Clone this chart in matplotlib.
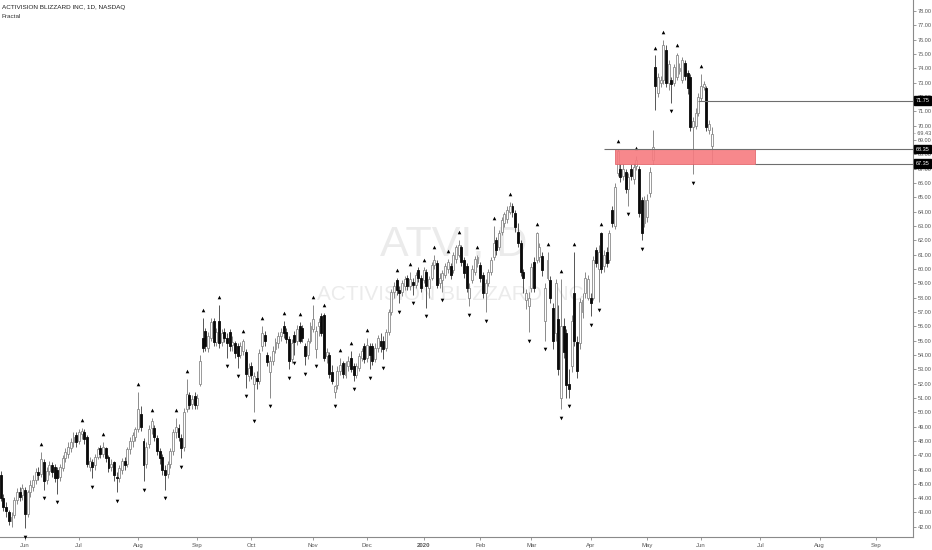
import numpy as np
import pandas as pd
import matplotlib
matplotlib.use("Agg")
import matplotlib.pyplot as plt
import matplotlib.transforms as mtrans
from matplotlib.patches import Rectangle

# ---------------- data ----------------
start_date = "2019-05-20"
holidays = ["2019-05-27", "2019-07-04", "2019-09-02", "2019-11-28", "2019-12-25",
            "2020-01-01", "2020-01-20", "2020-02-17", "2020-04-10", "2020-05-25",
            "2020-07-03", "2020-09-07"]

opens = [45.6, 44.0, 43.4, 43.0, 42.4, 42.8, 43.9, 44.4, 44.2, 44.6,
         42.9, 44.4, 44.8, 45.3, 45.8, 45.7, 46.5, 45.3, 45.9, 46.3,
         46.2, 46.0, 45.5, 46.1, 46.8, 47.1, 47.5, 47.9, 48.4, 48.0,
         48.5, 48.6, 48.3, 46.2, 46.5, 46.3, 46.9, 47.5, 47.1, 47.5,
         46.9, 46.2, 46.5, 45.5, 45.4, 46.0, 46.6, 46.4, 47.4, 48.0,
         48.3, 48.8, 49.9, 48.0, 46.4, 47.8, 48.9, 48.9, 48.2, 47.3,
         46.9, 46.0, 45.7, 46.4, 47.3, 48.6, 48.9, 48.2, 47.6, 50.2,
         51.2, 50.6, 51.1, 50.5, 52.0, 55.2, 55.7, 54.5, 55.2, 56.4,
         54.9, 56.4, 54.9, 55.6, 55.2, 55.6, 54.7, 54.8, 54.6, 54.0,
         54.3, 54.2, 52.5, 53.2, 52.0, 52.4, 52.2, 54.6, 55.4, 54.0,
         52.8, 53.6, 54.4, 54.8, 55.3, 56.0, 55.6, 55.1, 53.7, 55.4,
         55.0, 56.0, 55.9, 54.6, 54.0, 55.0, 55.8, 54.4, 56.0, 56.7,
         56.8, 53.9, 54.0, 52.8, 51.4, 51.9, 52.9, 53.4, 52.6, 53.2,
         53.8, 53.2, 52.6, 53.1, 53.8, 54.6, 53.8, 54.6, 54.6, 53.7,
         54.5, 55.0, 55.0, 54.5, 55.6, 57.0, 58.4, 59.2, 58.5, 58.4,
         58.8, 59.4, 58.8, 59.1, 58.9, 59.9, 59.4, 59.2, 59.8, 58.7,
         59.4, 60.3, 60.4, 59.0, 59.2, 59.6, 60.0, 60.2, 59.9, 60.7,
         61.0, 61.5, 60.6, 60.2, 58.0, 59.2, 59.8, 60.4, 60.3, 59.6,
         58.3, 59.0, 59.8, 60.8, 62.0, 61.5, 62.6, 63.2, 63.5, 64.0,
         64.4, 63.9, 62.6, 61.8, 59.8, 57.8, 57.4, 58.7, 60.5, 60.6,
         60.8, 60.9, 56.4, 59.4, 59.2, 57.3, 55.5, 56.5, 51.0, 56.0,
         55.5, 52.0, 53.2, 58.3, 54.9, 54.8, 57.0, 58.3, 58.0, 58.0,
         58.0, 61.3, 60.0, 62.5, 60.2, 61.2, 60.6, 64.1, 63.0, 66.7,
         67.0, 66.5, 66.8, 65.6, 67.0, 66.3, 67.2, 67.0, 64.8, 63.2,
         63.6, 65.3, 67.6, 74.1, 72.3, 73.0, 73.2, 75.3, 73.0, 73.2,
         73.0, 73.4, 73.8, 73.2, 74.4, 73.7, 73.4, 69.9, 70.0, 70.9,
         71.9, 72.7, 72.6, 69.7, 68.6]

highs = [45.9, 44.3, 43.7, 43.2, 43.0, 44.1, 44.7, 44.8, 45.0, 44.8,
         44.6, 45.3, 45.6, 46.1, 46.2, 47.2, 46.7, 46.2, 46.6, 46.5,
         46.4, 46.2, 46.4, 47.0, 47.5, 47.9, 48.2, 48.6, 48.6, 48.8,
         48.9, 48.8, 48.4, 46.9, 46.7, 47.1, 47.6, 47.7, 47.9, 47.6,
         47.0, 46.7, 46.6, 45.8, 46.3, 46.8, 46.9, 47.6, 48.3, 48.6,
         49.0, 51.4, 50.4, 48.2, 47.9, 49.1, 49.6, 49.1, 48.4, 47.5,
         47.1, 46.3, 46.6, 47.5, 48.8, 49.6, 49.2, 48.5, 50.3, 52.3,
         51.4, 51.2, 51.4, 51.3, 54.0, 56.6, 55.9, 55.6, 56.6, 56.6,
         55.9, 57.5, 55.8, 55.9, 55.5, 55.8, 55.3, 55.0, 54.8, 54.9,
         55.1, 54.4, 53.4, 53.5, 52.8, 52.9, 54.4, 56.0, 55.7, 54.2,
         53.9, 54.6, 55.2, 55.6, 55.9, 56.4, 55.9, 55.3, 55.1, 55.7,
         56.1, 56.3, 56.1, 54.8, 55.2, 56.3, 57.5, 56.0, 56.6, 56.9,
         56.9, 54.5, 54.2, 53.3, 51.9, 53.2, 53.8, 53.6, 53.6, 53.9,
         54.3, 53.4, 53.4, 54.1, 54.5, 54.8, 55.2, 54.8, 54.8, 54.8,
         55.4, 55.5, 55.3, 55.8, 57.2, 58.6, 59.1, 59.4, 58.8, 59.2,
         59.5, 59.6, 59.8, 59.4, 59.8, 60.1, 59.6, 60.1, 60.0, 59.5,
         60.5, 61.0, 60.6, 59.7, 59.9, 60.4, 60.7, 60.4, 61.2, 61.7,
         62.0, 61.7, 60.8, 60.4, 59.0, 60.3, 60.9, 61.0, 60.5, 59.8,
         59.3, 60.0, 60.8, 63.0, 62.2, 62.7, 63.6, 64.0, 64.4, 64.7,
         64.6, 64.1, 63.2, 62.0, 60.0, 58.6, 58.4, 60.4, 60.8, 62.6,
         61.8, 61.2, 59.0, 61.2, 59.5, 57.6, 59.3, 57.5, 59.3, 56.6,
         55.8, 53.0, 56.8, 61.2, 55.3, 58.0, 58.3, 59.8, 59.6, 58.3,
         60.9, 61.5, 61.7, 62.6, 61.3, 61.5, 62.7, 64.4, 66.0, 68.4,
         67.3, 67.3, 67.0, 66.7, 67.3, 67.4, 67.9, 67.2, 65.0, 65.1,
         65.2, 67.1, 69.7, 74.9, 73.7, 73.5, 76.0, 75.6, 74.6, 73.4,
         74.3, 75.1, 74.4, 74.8, 74.6, 73.9, 73.6, 70.6, 71.2, 72.3,
         73.6, 73.1, 72.8, 70.4, 69.9]

lows = [43.8, 43.1, 42.7, 42.1, 42.0, 42.6, 43.6, 43.8, 43.9, 41.9,
        42.7, 44.1, 44.5, 45.0, 45.3, 45.5, 44.6, 45.0, 45.6, 45.5,
        45.1, 44.3, 45.2, 45.9, 46.5, 46.8, 47.2, 47.6, 47.6, 47.8,
        48.1, 47.8, 46.2, 45.9, 45.4, 46.0, 46.7, 46.8, 46.9, 46.5,
        45.8, 45.9, 45.2, 44.4, 45.1, 45.7, 46.0, 46.2, 47.1, 47.6,
        48.0, 48.6, 48.7, 45.2, 46.1, 47.5, 48.5, 48.0, 47.0, 46.4,
        45.6, 44.6, 45.4, 46.1, 47.0, 48.2, 48.0, 46.8, 47.3, 50.0,
        50.2, 50.2, 50.2, 50.2, 51.8, 54.2, 54.3, 54.2, 55.0, 54.6,
        54.6, 54.5, 54.6, 54.9, 53.8, 54.3, 54.3, 53.8, 53.1, 53.8,
        54.0, 51.7, 52.2, 52.3, 50.0, 51.6, 52.0, 54.3, 54.6, 53.2,
        51.0, 53.3, 54.1, 54.5, 55.0, 55.2, 54.8, 53.0, 53.4, 54.0,
        54.7, 54.8, 54.9, 53.3, 53.7, 54.8, 55.6, 53.8, 55.3, 55.3,
        53.6, 53.4, 52.4, 52.0, 51.0, 51.6, 52.6, 52.4, 52.4, 52.9,
        52.8, 52.2, 52.4, 52.9, 53.6, 53.4, 53.5, 53.0, 53.3, 53.5,
        54.2, 54.2, 53.7, 54.3, 55.4, 56.8, 58.0, 58.2, 57.6, 58.1,
        58.5, 58.5, 58.5, 58.2, 58.7, 59.1, 58.4, 59.0, 57.3, 58.0,
        59.2, 60.0, 58.7, 58.7, 58.4, 59.4, 59.7, 59.3, 59.7, 60.4,
        60.8, 60.2, 59.4, 58.4, 57.4, 59.0, 59.6, 60.1, 59.1, 58.0,
        57.0, 58.8, 59.6, 60.6, 61.0, 61.3, 62.4, 62.9, 63.2, 63.8,
        63.6, 62.6, 61.5, 59.5, 58.3, 57.2, 55.6, 58.4, 58.4, 60.4,
        60.5, 59.5, 55.0, 59.2, 57.6, 54.4, 55.0, 52.6, 50.2, 53.8,
        51.0, 51.0, 52.8, 54.6, 52.4, 54.4, 56.6, 58.0, 57.8, 56.7,
        57.8, 60.1, 57.7, 59.7, 59.8, 60.1, 60.4, 62.9, 62.8, 66.5,
        66.1, 66.2, 65.3, 64.4, 66.2, 65.9, 66.9, 63.6, 62.0, 62.9,
        63.3, 65.0, 67.3, 71.1, 72.0, 72.7, 72.9, 72.7, 72.5, 71.6,
        72.8, 73.2, 73.6, 73.0, 73.2, 72.2, 69.6, 66.6, 69.8, 70.7,
        71.7, 72.5, 69.6, 69.4, 67.4]

closes = [44.0, 43.4, 43.1, 42.4, 42.7, 43.9, 44.4, 44.1, 44.7, 42.9,
          44.4, 44.9, 45.3, 45.8, 45.6, 46.7, 45.2, 45.9, 46.3, 45.8,
          45.4, 45.4, 46.2, 46.8, 47.2, 47.6, 47.9, 48.3, 47.9, 48.6,
          48.7, 48.1, 46.4, 46.6, 46.2, 46.9, 47.4, 47.1, 47.6, 46.8,
          46.1, 46.4, 45.6, 45.4, 46.1, 46.6, 46.3, 47.4, 48.0, 48.4,
          48.8, 50.2, 49.0, 46.3, 47.6, 48.8, 49.4, 48.3, 47.3, 46.8,
          46.0, 45.6, 46.4, 47.3, 48.6, 49.0, 48.3, 47.5, 50.0, 51.3,
          50.5, 50.9, 50.5, 51.0, 53.6, 54.5, 54.6, 55.3, 56.3, 54.9,
          55.6, 54.8, 55.5, 55.2, 54.8, 54.6, 54.9, 54.1, 53.9, 54.6,
          55.0, 52.7, 53.1, 52.6, 52.5, 52.2, 54.1, 55.5, 55.0, 53.5,
          53.6, 54.3, 54.9, 55.3, 55.6, 55.5, 55.1, 53.6, 54.8, 54.9,
          55.8, 55.0, 55.2, 53.9, 55.0, 56.0, 56.5, 55.7, 56.3, 55.5,
          53.8, 54.2, 52.7, 52.2, 51.8, 52.9, 53.3, 52.7, 53.4, 53.6,
          53.0, 52.6, 53.2, 53.9, 54.3, 53.7, 54.7, 54.0, 53.6, 54.5,
          55.2, 54.6, 54.4, 55.6, 57.0, 58.4, 58.8, 58.5, 58.3, 59.0,
          59.3, 58.8, 59.3, 58.9, 59.6, 59.4, 58.7, 59.9, 58.8, 59.3,
          60.3, 60.6, 58.9, 59.4, 59.7, 60.2, 60.5, 59.6, 61.0, 61.5,
          61.7, 60.5, 59.7, 58.7, 58.7, 60.0, 60.7, 60.8, 59.4, 58.3,
          59.0, 59.8, 60.6, 61.8, 61.3, 62.5, 63.4, 63.8, 64.1, 64.4,
          64.0, 62.9, 61.8, 59.8, 59.4, 58.3, 58.0, 60.1, 58.7, 62.5,
          61.5, 59.9, 58.7, 60.6, 58.0, 55.0, 59.0, 53.0, 56.0, 54.2,
          51.9, 51.6, 56.4, 55.0, 52.9, 57.7, 57.8, 59.4, 59.3, 57.6,
          60.6, 60.4, 61.2, 60.0, 61.0, 60.4, 62.5, 63.2, 65.7, 68.2,
          66.4, 67.0, 65.6, 66.4, 66.5, 67.1, 67.6, 63.9, 62.5, 64.8,
          64.8, 66.8, 68.5, 72.8, 73.4, 73.2, 75.6, 73.0, 74.3, 72.9,
          74.1, 74.9, 74.0, 74.6, 73.5, 72.6, 69.9, 70.3, 70.9, 72.0,
          72.8, 72.9, 69.9, 70.1, 69.43]

fractal_high_idx = [15, 30, 38, 51, 56, 65, 69, 75, 81, 90, 97, 105, 111, 116, 120,
                    126, 130, 136, 147, 152, 157, 161, 166, 170, 177, 183, 189, 199,
                    203, 208, 213, 223, 229, 236, 243, 246, 251, 260]
fractal_low_idx = [9, 16, 21, 34, 43, 53, 61, 67, 84, 88, 91, 94, 100, 107, 109, 113,
                   117, 124, 131, 137, 142, 148, 153, 158, 164, 174, 180, 196, 202,
                   208, 211, 219, 222, 233, 238, 249, 257]

level_prices = [71.75, 68.35, 67.35]
level_starts = ["2020-05-29", "2020-04-08", "2020-06-29"]
zone_low, zone_high = 67.35, 68.35
zone_start, zone_end = "2020-04-15", "2020-06-29"
last_price_label = 69.43

title_text = "ACTIVISION BLIZZARD INC, 1D, NASDAQ"
indicator_text = "Fractal"
watermark_big = "ATVI, D"
watermark_small = "ACTIVISION BLIZZARD INC"

# ---------------- calendar of trading days ----------------
cal = pd.bdate_range(start_date, "2020-09-30")
cal = cal[~cal.isin(pd.to_datetime(holidays))]
pos = {d: i for i, d in enumerate(cal)}

def xi(date_str):
    return pos[pd.Timestamp(date_str)]

o = np.array(opens); h = np.array(highs); l = np.array(lows); c = np.array(closes)
n = len(o)
x = np.arange(n)
up = c >= o

FONT = "Liberation Sans"

# ---------------- figure ----------------
W, H = 932, 550
fig = plt.figure(figsize=(W / 100, H / 100), dpi=100)
fig.patch.set_facecolor("white")
ax = fig.add_axes([0, 13 / H, 913 / W, 537 / H])
ax.set_facecolor("white")

XL = (-0.28, 338.7)
YL = (41.29, 78.77)
ax.set_xlim(*XL)
ax.set_ylim(*YL)

# watermark
ax.text(0.497, 0.545, watermark_big, transform=ax.transAxes, ha="center", va="center",
        fontsize=31, color="#ebebeb", family=FONT, zorder=0)
ax.text(0.493, 0.452, watermark_small, transform=ax.transAxes, ha="center", va="center",
        fontsize=15, color="#ebebeb", family=FONT, zorder=0)

# candles
wick_col = "#8a8a8a"
ax.vlines(x[up], l[up], h[up], color=wick_col, lw=0.7, zorder=2)
ax.vlines(x[~up], l[~up], h[~up], color="#555555", lw=0.7, zorder=2)
body_h = np.maximum(np.abs(c - o), 0.06)
body_b = np.minimum(o, c)
ax.bar(x[up], body_h[up], bottom=body_b[up], width=0.72, facecolor="white",
       edgecolor="#8a8a8a", linewidth=0.6, zorder=3)
ax.bar(x[~up], body_h[~up], bottom=body_b[~up], width=0.72, facecolor="#0a0a0a",
       edgecolor="#0a0a0a", linewidth=0.6, zorder=3)

# fractals
fh = np.array(fractal_high_idx); fl = np.array(fractal_low_idx)
ax.plot(fh, h[fh] + 0.55, linestyle="none", marker="^", markersize=2.6,
        markeredgewidth=0, color="black", zorder=4, clip_on=False)
ax.plot(fl, l[fl] - 0.6, linestyle="none", marker="v", markersize=2.6,
        markeredgewidth=0, color="black", zorder=4, clip_on=False)

# zone and levels
zs, ze = xi(zone_start), xi(zone_end)
ax.add_patch(Rectangle((zs, zone_low), ze - zs, zone_high - zone_low,
                       facecolor="#f77b80", edgecolor="#e06066", lw=0.6,
                       alpha=0.9, zorder=5))
for p, s in zip(level_prices, level_starts):
    ax.hlines(p, xi(s), XL[1], color="#6e6e6e", lw=0.8, zorder=5)

# axes styling
for sp in ["top", "left"]:
    ax.spines[sp].set_visible(False)
ax.spines["right"].set_color("#8a8a8a")
ax.spines["bottom"].set_color("#8a8a8a")
ax.spines["right"].set_linewidth(0.8)
ax.spines["bottom"].set_linewidth(0.8)

ax.yaxis.tick_right()
yt = np.arange(42, 79, 1.0)
ax.set_yticks(yt)
ax.set_yticklabels([f"{v:.2f}" for v in yt], family=FONT)
ax.tick_params(axis="y", which="both", length=2, width=0.6, color="#8a8a8a",
               labelsize=4.0, labelcolor="#555555", pad=1.2)

# month ticks
dates = pd.Series(cal)
first_idx = []
labels = []
for (yy, mm), grp in dates.groupby([dates.dt.year, dates.dt.month]):
    i0 = grp.index[0]
    if grp.iloc[0].day > 7:
        continue
    first_idx.append(i0)
    labels.append(str(yy) if mm == 1 else grp.iloc[0].strftime("%b"))
ax.set_xticks(first_idx)
ax.set_xticklabels(labels, family=FONT)
for t in ax.get_xticklabels():
    if t.get_text().isdigit():
        t.set_fontweight("bold")
ax.tick_params(axis="x", length=2, width=0.6, color="#8a8a8a", labelsize=4.3,
               labelcolor="#555555", pad=2)

# right-side price tags
trans = mtrans.blended_transform_factory(ax.transAxes, ax.transData)
for p in level_prices:
    ax.text(1.003, p, f"{p:.2f}", transform=trans, ha="left", va="center",
            fontsize=4.0, color="white", family=FONT, zorder=10, clip_on=False,
            bbox=dict(boxstyle="square,pad=0.3", facecolor="black", edgecolor="black"))
ax.text(1.0015, last_price_label, f"- {last_price_label:.2f}", transform=trans, ha="left",
        va="center", fontsize=4.0, color="#555555", family=FONT, zorder=9, clip_on=False)

# header
fig.text(2 / W, 1 - 7 / H, title_text, ha="left", va="center", fontsize=4.6,
         color="#222222", family=FONT)
fig.text(2 / W, 1 - 16 / H, indicator_text, ha="left", va="center", fontsize=4.6,
         color="#333333", family=FONT)

fig.savefig("out.png", dpi=100, facecolor="white")
